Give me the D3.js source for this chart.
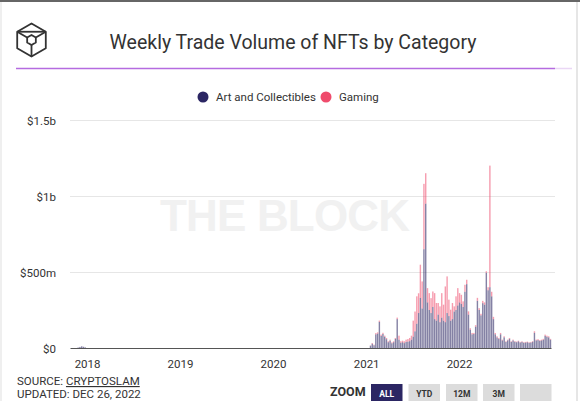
<!DOCTYPE html>
<html>
<head>
<meta charset="utf-8">
<script src="https://cdn.jsdelivr.net/npm/d3@7"></script>
<style>
  html, body { margin: 0; padding: 0; background: #fff; }
  svg { display: block; }
</style>
</head>
<body>
<svg id="chart" width="580" height="401"></svg>
<script>
// ---------- DATA ----------
const titleText = "Weekly Trade Volume of NFTs by Category";
const seriesNames = ["Art and Collectibles", "Gaming"];
const seriesColors = ["#2b2663", "#ef4b6c"];
const yTickValues = [0, 500, 1000, 1500];          // millions USD
const yTickLabels = ["$0", "$500m", "$1b", "$1.5b"];
const xTickYears = ["2018", "2019", "2020", "2021", "2022"];
const xDomain = ["2017-10-26", "2022-12-28"];

// Small late-2017 weekly values (millions)
const earlyDates = ["2017-11-27", "2017-12-04", "2017-12-11", "2017-12-18", "2017-12-25"];
const earlyArt = [3, 7, 11, 8, 4];
const earlyGaming = [0, 0, 0, 0, 0];

// Weekly values from this date onward (millions)
const startDate = "2021-01-18";
const artValues = [
  15, 28, 18, 90, 95, 172, 80, 92, 74, 58,
  38, 48, 31, 38, 60, 190, 55, 35, 38, 32,
  40, 42, 45, 55, 75, 110, 160, 230, 330, 260,
  650, 950, 300, 250, 230, 270, 190, 180, 220, 170,
  200, 180, 170, 230, 210, 180, 190, 240, 250, 280,
  300, 290, 270, 370, 420, 220, 120, 90, 92, 140,
  310, 250, 215, 295, 285, 495, 380, 400, 340, 190,
  90, 70, 60, 90, 50, 70, 40, 50, 60, 40,
  50, 41, 38, 44, 36, 40, 34, 36, 38, 34,
  36, 41, 100, 50, 52, 47, 50, 54, 80, 74,
  70, 55
];
const gamingValues = [
  2, 5, 4, 8, 8, 8, 8, 8, 7, 8,
  6, 7, 6, 6, 6, 10, 26, 9, 10, 12,
  15, 17, 21, 26, 105, 130, 180, 130, 218, 178,
  430, 200, 94, 111, 98, 102, 171, 116, 76, 104,
  161, 105, 235, 241, 108, 72, 106, 34, 90, 114,
  61, 60, 37, 46, 29, 21, 10, 9, 7, 10,
  20, 12, 10, 15, 15, 10, 20, 800, 30, 15,
  9, 7, 6, 9, 5, 7, 4, 5, 6, 4,
  5, 4, 4, 4, 4, 4, 4, 4, 4, 4,
  4, 4, 10, 5, 6, 5, 5, 6, 8, 7,
  7, 5
];

// ---------- BUILD ----------
const parse = d3.utcParse("%Y-%m-%d");
const rows = [];
earlyDates.forEach((d, i) => rows.push({ date: parse(d), art: earlyArt[i], gaming: earlyGaming[i] }));
const start = parse(startDate);
artValues.forEach((v, i) => rows.push({ date: d3.utcWeek.offset(start, i), art: v, gaming: gamingValues[i] }));

const svg = d3.select("#chart");
const fontMain = "Roboto, 'Liberation Sans', Arial, sans-serif";

// frame
svg.append("rect").attr("x", 0).attr("y", 0).attr("width", 580).attr("height", 401).attr("fill", "#fff");
svg.append("line").attr("x1", 0).attr("x2", 580).attr("y1", 1).attr("y2", 1)
  .attr("stroke", "#666").attr("stroke-width", 2);
svg.append("line").attr("x1", 577).attr("x2", 577).attr("y1", 2).attr("y2", 401)
  .attr("stroke", "#e6e6e6").attr("stroke-width", 2);
svg.append("line").attr("x1", 1).attr("x2", 1).attr("y1", 2).attr("y2", 401)
  .attr("stroke", "#efefef").attr("stroke-width", 2);

// logo (cube)
const logo = svg.append("g").attr("fill", "none").attr("stroke", "#333").attr("stroke-width", 1.8)
  .attr("stroke-linejoin", "round");
const cx = 31.5, cy = 40, R = 16.5;
const hex = d3.range(6).map(k => {
  const a = -Math.PI / 2 + k * Math.PI / 3;
  return [cx + R * Math.cos(a), cy + R * Math.sin(a)];
});
logo.append("path").attr("d", "M" + hex.map(p => p.join(",")).join("L") + "Z");
const r2 = 5;
const inner = d3.range(6).map(k => {
  const a = -Math.PI / 2 + k * Math.PI / 3;
  return [cx + r2 * Math.cos(a), cy + r2 * Math.sin(a)];
});
logo.append("path").attr("d", "M" + inner.map(p => p.join(",")).join("L") + "Z");
logo.append("path").attr("d", `M${hex[5][0]},${hex[5][1]}L${hex[1][0]},${hex[1][1]}`);
logo.append("path").attr("d", `M${hex[5][0]},${hex[5][1]}L${inner[5][0]},${inner[5][1]}`);
logo.append("path").attr("d", `M${hex[1][0]},${hex[1][1]}L${inner[1][0]},${inner[1][1]}`);
logo.append("path").attr("d", `M${hex[3][0]},${hex[3][1]}L${inner[3][0]},${inner[3][1]}`);

// title
svg.append("text").attr("x", 293).attr("y", 49).attr("text-anchor", "middle")
  .attr("font-family", fontMain).attr("font-size", 19.5).attr("fill", "#333")
  .text(titleText);
svg.append("line").attr("x1", 16).attr("x2", 555).attr("y1", 68.5).attr("y2", 68.5)
  .attr("stroke", "#b56be0").attr("stroke-width", 1.5);
svg.append("line").attr("x1", 555).attr("x2", 572).attr("y1", 68.5).attr("y2", 68.5)
  .attr("stroke", "#ead7f5").attr("stroke-width", 1.5);

// legend
const legendItems = [
  { name: seriesNames[0], color: seriesColors[0], x: 203 },
  { name: seriesNames[1], color: seriesColors[1], x: 326 }
];
const lg = svg.append("g");
legendItems.forEach(it => {
  lg.append("circle").attr("cx", it.x).attr("cy", 97).attr("r", 5.5).attr("fill", it.color);
  lg.append("text").attr("x", it.x + 13).attr("y", 101).attr("font-family", fontMain)
    .attr("font-size", 11.5).attr("fill", "#333").text(it.name);
});

// scales
const x = d3.scaleUtc().domain(xDomain.map(parse)).range([70, 551]);
const y = d3.scaleLinear().domain([0, 1500]).range([348, 120]);

// watermark
svg.append("text").attr("x", 285).attr("y", 231).attr("text-anchor", "middle")
  .attr("font-family", "'Liberation Sans', Arial, sans-serif").attr("font-weight", "bold")
  .attr("font-size", 44).attr("fill", "#f1f1f1").attr("textLength", 250)
  .text("THE BLOCK");

// grid
const yAxis = d3.axisLeft(y).tickValues(yTickValues).tickSize(0)
  .tickFormat((d, i) => yTickLabels[i]);
const gy = svg.append("g").attr("transform", "translate(56,0)").call(yAxis);
gy.select(".domain").remove();
gy.selectAll("text").attr("font-family", fontMain).attr("font-size", 11.5).attr("fill", "#333")
  .attr("x", 0).attr("dy", "0.35em");
svg.append("g").selectAll("line").data(yTickValues.filter(v => v > 0)).join("line")
  .attr("x1", 70).attr("x2", 555).attr("y1", d => y(d) + 0.5).attr("y2", d => y(d) + 0.5)
  .attr("stroke", "#e6e6e6").attr("stroke-width", 1);

// bars (stacked)
const bw = 1.4;
const bars = svg.append("g");
bars.selectAll("rect.art").data(rows).join("rect").attr("class", "art")
  .attr("x", d => x(d.date) - bw / 2).attr("width", bw)
  .attr("y", d => y(d.art)).attr("height", d => y(0) - y(d.art))
  .attr("fill", seriesColors[0]).attr("fill-opacity", 0.58);
bars.selectAll("rect.gam").data(rows).join("rect").attr("class", "gam")
  .attr("x", d => x(d.date) - bw / 2).attr("width", bw)
  .attr("y", d => y(d.art + d.gaming)).attr("height", d => y(d.art) - y(d.art + d.gaming))
  .attr("fill", seriesColors[1]).attr("fill-opacity", 0.55);

// x axis
const xAxis = d3.axisBottom(x)
  .tickValues(xTickYears.map(yr => parse(yr + "-01-01")))
  .tickSize(0).tickFormat(d3.utcFormat("%Y"));
const gx = svg.append("g").attr("transform", "translate(0,348)").call(xAxis);
gx.select(".domain").attr("stroke", "#555").attr("stroke-width", 1.2);
gx.selectAll("text").attr("font-family", fontMain).attr("font-size", 11.5).attr("fill", "#333")
  .attr("y", 12);

// footer
const ft = svg.append("g").attr("font-family", fontMain).attr("font-size", 11.5).attr("fill", "#333");
const src = ft.append("text").attr("x", 17).attr("y", 385);
src.append("tspan").text("SOURCE: ");
src.append("tspan").attr("text-decoration", "underline").text("CRYPTOSLAM");
ft.append("text").attr("x", 17).attr("y", 397.5).text("UPDATED: DEC 26, 2022");

svg.append("text").attr("x", 330).attr("y", 396).attr("font-family", fontMain)
  .attr("font-weight", "bold").attr("font-size", 12.5).attr("fill", "#333").text("ZOOM");
const buttons = [
  { label: "ALL", x: 371, active: true },
  { label: "YTD", x: 408.5, active: false },
  { label: "12M", x: 446, active: false },
  { label: "3M", x: 483, active: false },
  { label: "", x: 520, active: false }
];
const bg = svg.append("g");
buttons.forEach(b => {
  bg.append("rect").attr("x", b.x).attr("y", 384).attr("width", 31.5).attr("height", 22)
    .attr("fill", b.active ? "#2b2663" : "#dcdcdc");
  bg.append("text").attr("x", b.x + 15.75).attr("y", 396.5).attr("text-anchor", "middle")
    .attr("font-family", fontMain).attr("font-weight", "bold").attr("font-size", 8.5)
    .attr("fill", b.active ? "#fff" : "#333").text(b.label);
});
</script>
</body>
</html>
